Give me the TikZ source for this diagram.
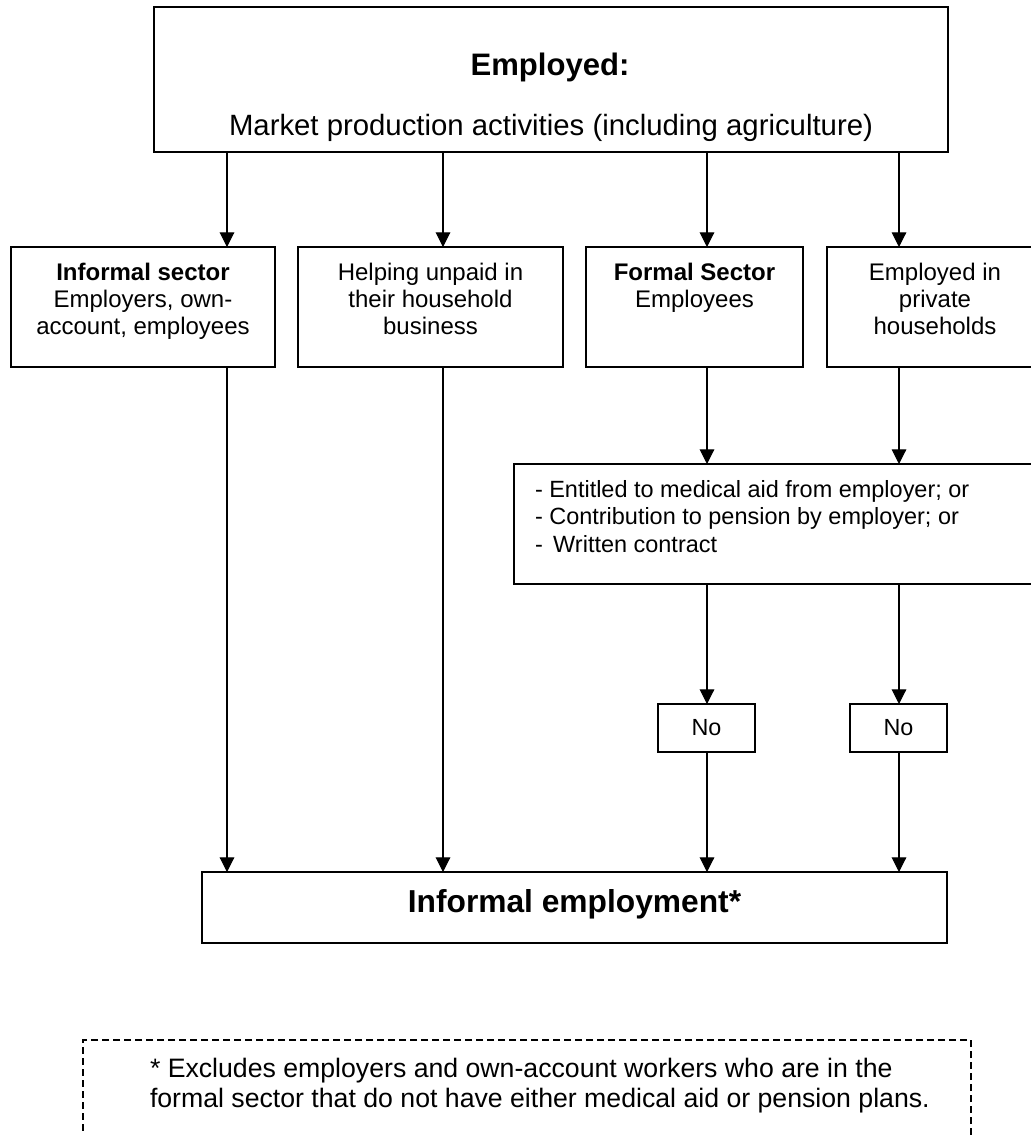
\documentclass[tikz,border=0pt]{standalone}
\usepackage{fontspec}
\setmainfont{Liberation Sans}
\usetikzlibrary{arrows.meta}
\begin{document}
\begin{tikzpicture}[x=0.75pt,y=-0.75pt,
  box/.style={draw,line width=1.1pt,inner sep=0pt,outer sep=0pt},
  lbl/.style={inner sep=0pt,outer sep=0pt,align=center,font={\fontsize{18}{20.6}\selectfont}},
  arr/.style={line width=0.8pt,-{Triangle[width=11pt,length=11pt]}},
  notebox/.style={draw,line width=0.8pt,dash pattern=on 5.25pt off 3pt,inner sep=0pt,outer sep=0pt}]
\useasboundingbox (0,0) rectangle (1031,1135);
\clip (0,0) rectangle (1031,1135);

% top box
\node[box,minimum width=595.5pt,minimum height=108.75pt] (top) at (551,79.5) {};
\node[anchor=base,inner sep=0pt,font={\fontsize{23.3}{28}\selectfont\bfseries}] (temp) at (550,75) {Employed:};
\node[anchor=base,inner sep=0pt,font={\fontsize{22}{26}\selectfont}] (tmkt) at (551,135) {Market production activities (including agriculture)};

% second row
\node[box,minimum width=198pt,minimum height=90pt] (b1) at (143,307) {};
\node[box,minimum width=198.75pt,minimum height=90pt] (b2) at (430.5,307) {};
\node[box,minimum width=162.75pt,minimum height=90pt] (b3) at (694.5,307) {};
\node[box,minimum width=162pt,minimum height=90pt] (b4) at (935,307) {};
\node[lbl,anchor=north] (t1) at (143,260.8) {\strut\textbf{Informal sector}\\\strut Employers, own-\\\strut account, employees};
\node[lbl,anchor=north] (t2) at (430.5,260.8) {\strut Helping unpaid in\\\strut their household\\\strut business};
\node[lbl,anchor=north] (t3) at (694.5,260.8) {\strut\textbf{Formal Sector}\\\strut Employees};
\node[lbl,anchor=north] (t4) at (935,260.8) {\strut Employed in\\\strut private\\\strut households};

% criteria box
\node[box,minimum width=398.25pt,minimum height=90pt] (crit) at (779.5,524) {};
\node[inner sep=0pt,outer sep=0pt,anchor=north west,align=left,font={\fontsize{17.6}{20.8}\selectfont}] (tcrit) at (535,477.6)
  {\strut - Entitled to medical aid from employer; or\\\strut - Contribution to pension by employer; or\\\strut -~\,Written contract};

% No boxes
\node[box,minimum width=72.75pt,minimum height=36pt,font={\fontsize{17.5}{21}\selectfont}] (no1) at (706.5,728) {No};
\node[box,minimum width=72.75pt,minimum height=36pt,font={\fontsize{17.5}{21}\selectfont}] (no2) at (898.5,728) {No};

% informal employment
\node[box,minimum width=558.75pt,minimum height=53.25pt] (inf) at (574.5,907.5) {};
\node[anchor=base,inner sep=0pt,font={\fontsize{23.8}{28}\selectfont\bfseries}] (tinf) at (574.5,912) {Informal employment*};

% footnote
\node[notebox,minimum width=666pt,minimum height=90pt] (note) at (527,1100) {};
\node[inner sep=0pt,outer sep=0pt,anchor=north west,align=left,font={\fontsize{20}{22.5}\selectfont}] (tnote) at (150,1056)
  {\strut * Excludes employers and own-account workers who are in the\\\strut formal sector that do not have either medical aid or pension plans.};

% arrow columns
\coordinate (x1) at (227,0);
\coordinate (x2) at (443,0);
\coordinate (x3) at (707,0);
\coordinate (x4) at (899,0);

\draw[arr] (top.south -| x1) -- (b1.north -| x1);
\draw[arr] (top.south -| x2) -- (b2.north -| x2);
\draw[arr] (top.south -| x3) -- (b3.north -| x3);
\draw[arr] (top.south -| x4) -- (b4.north -| x4);

\draw[arr] (b1.south -| x1) -- (inf.north -| x1);
\draw[arr] (b2.south -| x2) -- (inf.north -| x2);
\draw[arr] (b3.south -| x3) -- (crit.north -| x3);
\draw[arr] (b4.south -| x4) -- (crit.north -| x4);

\draw[arr] (crit.south -| x3) -- (no1.north -| x3);
\draw[arr] (crit.south -| x4) -- (no2.north -| x4);
\draw[arr] (no1.south -| x3) -- (inf.north -| x3);
\draw[arr] (no2.south -| x4) -- (inf.north -| x4);
\end{tikzpicture}
\end{document}
